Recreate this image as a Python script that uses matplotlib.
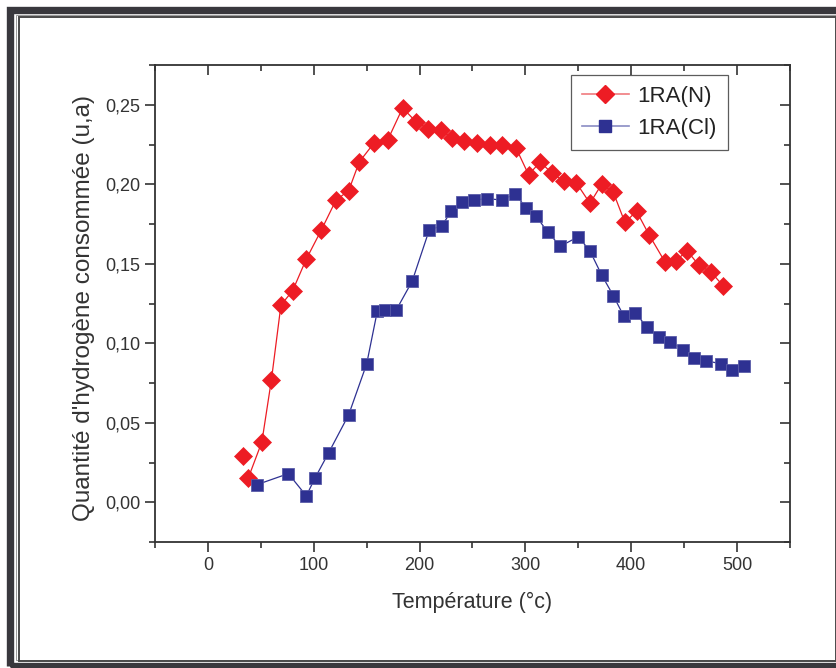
import matplotlib
matplotlib.use("Agg")
import matplotlib.pyplot as plt
from matplotlib.patches import Rectangle
from matplotlib.ticker import MultipleLocator, FuncFormatter

plt.rcParams['font.family'] = ['Liberation Sans', 'DejaVu Sans']

# Temperature (°C) and hydrogen consumption (u.a.)
temp_n = [33, 38, 51, 60, 69, 80, 93, 107, 121, 133, 143, 157, 170, 184, 197,
          208, 220, 231, 242, 254, 267, 278, 291, 303, 314, 325, 336, 348,
          361, 372, 383, 394, 405, 417, 432, 442, 453, 464, 475, 487]
h2_n = [0.029, 0.015, 0.038, 0.077, 0.124, 0.133, 0.153, 0.171, 0.190, 0.196,
        0.214, 0.226, 0.228, 0.248, 0.239, 0.235, 0.234, 0.229, 0.227, 0.226,
        0.225, 0.225, 0.223, 0.206, 0.214, 0.207, 0.202, 0.201, 0.188, 0.200,
        0.195, 0.176, 0.183, 0.168, 0.151, 0.152, 0.158, 0.149, 0.145, 0.136]

temp_cl = [46, 76, 93, 101, 114, 133, 150, 160, 167, 178, 193, 209, 221, 230,
           240, 251, 264, 278, 290, 301, 310, 321, 333, 350, 361, 372, 383,
           393, 404, 415, 426, 437, 449, 459, 471, 485, 495, 507]
h2_cl = [0.011, 0.018, 0.004, 0.015, 0.031, 0.055, 0.087, 0.120, 0.121, 0.121,
         0.139, 0.171, 0.174, 0.183, 0.189, 0.190, 0.191, 0.190, 0.194, 0.185,
         0.180, 0.170, 0.161, 0.167, 0.158, 0.143, 0.130, 0.117, 0.119, 0.110,
         0.104, 0.101, 0.096, 0.091, 0.089, 0.087, 0.083, 0.086]

RED = '#ed1c24'
BLUE = '#2e3192'
AXC = '#333333'

W, H = 837, 668
fig = plt.figure(figsize=(W / 100, H / 100), dpi=100)


def fx(px):
    return px / W


def fy(py):
    return 1 - py / H


# Outer frame: thick dark band plus a thin inner double line
fig.patches.append(Rectangle((fx(10.5), fy(665.5)), fx(845) - fx(10.5), fy(9.5) - fy(665.5),
                             transform=fig.transFigure, fill=False,
                             edgecolor='#39383d', linewidth=5.3, zorder=0))
fig.patches.append(Rectangle((fx(16.2), fy(660)), fx(836) - fx(16.2), fy(14.5) - fy(660),
                             transform=fig.transFigure, fill=False,
                             edgecolor='#9a9a9a', linewidth=0.7, zorder=0))
fig.patches.append(Rectangle((fx(18.8), fy(660.5)), fx(836.5) - fx(18.8), fy(17.2) - fy(660.5),
                             transform=fig.transFigure, fill=False,
                             edgecolor='#4a4a4a', linewidth=1.4, zorder=0))

ax = fig.add_axes([fx(155), fy(542), fx(790) - fx(155), fy(65) - fy(542)])

# 1RA(N): the first reading stands alone, the rest are joined
ax.plot(temp_n[1:], h2_n[1:], '-', color=RED, linewidth=0.9, zorder=2)
ax.plot(temp_n, h2_n, linestyle='none', marker='D', markersize=9.5,
        color=RED, markeredgecolor=RED, markeredgewidth=0.5, zorder=3)
ax.plot(temp_cl, h2_cl, '-', color=BLUE, linewidth=0.9, zorder=2)
ax.plot(temp_cl, h2_cl, linestyle='none', marker='s', markersize=8.5,
        color=BLUE, markeredgecolor='#5a5ca8', markeredgewidth=0.6, zorder=3)

# Legend entries
h_n, = ax.plot([], [], '-', color='#f07a7e', linewidth=1.2, marker='D',
               markersize=9.5, markerfacecolor=RED, markeredgecolor=RED)
h_cl, = ax.plot([], [], '-', color='#8a8cc4', linewidth=1.2, marker='s',
                markersize=8.5, markerfacecolor=BLUE, markeredgecolor=BLUE)
leg = ax.legend([h_n, h_cl], ['1RA(N)', '1RA(Cl)'], loc='upper left',
                bbox_to_anchor=((571 - 155) / 635, (542 - 75) / 477),
                frameon=True, fancybox=False, fontsize=16,
                handlelength=2.1, handletextpad=0.4, borderpad=0.5,
                labelspacing=0.5, borderaxespad=0)
leg.get_frame().set_edgecolor(AXC)
leg.get_frame().set_linewidth(0.9)
for t in leg.get_texts():
    t.set_color('#222222')

ax.set_xlim(-50, 550)
ax.set_ylim(-0.025, 0.275)
ax.xaxis.set_major_locator(MultipleLocator(100))
ax.xaxis.set_minor_locator(MultipleLocator(50))
ax.yaxis.set_major_locator(MultipleLocator(0.05))
ax.yaxis.set_minor_locator(MultipleLocator(0.025))
ax.yaxis.set_major_formatter(FuncFormatter(lambda v, p: f"{v:.2f}".replace('.', ',')))

for s in ax.spines.values():
    s.set_color(AXC)
    s.set_linewidth(1.3)

ax.tick_params(axis='both', which='both', colors=AXC, width=1.2, labelcolor='#333333',
               labelsize=13)
ax.tick_params(axis='both', which='major', length=7)
ax.tick_params(axis='both', which='minor', length=4)
ax.tick_params(axis='x', which='both', direction='out', top=False)
ax.tick_params(axis='y', which='both', direction='out', right=False)

# Mirrored inward ticks on the top and right spines
axt = ax.secondary_xaxis('top')
axt.xaxis.set_major_locator(MultipleLocator(100))
axt.xaxis.set_minor_locator(MultipleLocator(50))
axt.tick_params(which='both', direction='in', colors=AXC, width=1.2, labeltop=False)
axt.tick_params(which='major', length=7)
axt.tick_params(which='minor', length=4)
axt.spines['top'].set_visible(False)
axr = ax.secondary_yaxis('right')
axr.yaxis.set_major_locator(MultipleLocator(0.05))
axr.yaxis.set_minor_locator(MultipleLocator(0.025))
axr.tick_params(which='both', direction='in', colors=AXC, width=1.2, labelright=False)
axr.tick_params(which='major', length=7)
axr.tick_params(which='minor', length=4)
axr.spines['right'].set_visible(False)

ax.set_xlabel('Température (°c)', fontsize=15.5, color='#333333', labelpad=13)
ax.set_ylabel("Quantité d'hydrogène consommée (u,a)", fontsize=17.5,
              color='#333333')
ax.yaxis.set_label_coords(-0.094, 0.49)

fig.savefig('out.png', dpi=100)
